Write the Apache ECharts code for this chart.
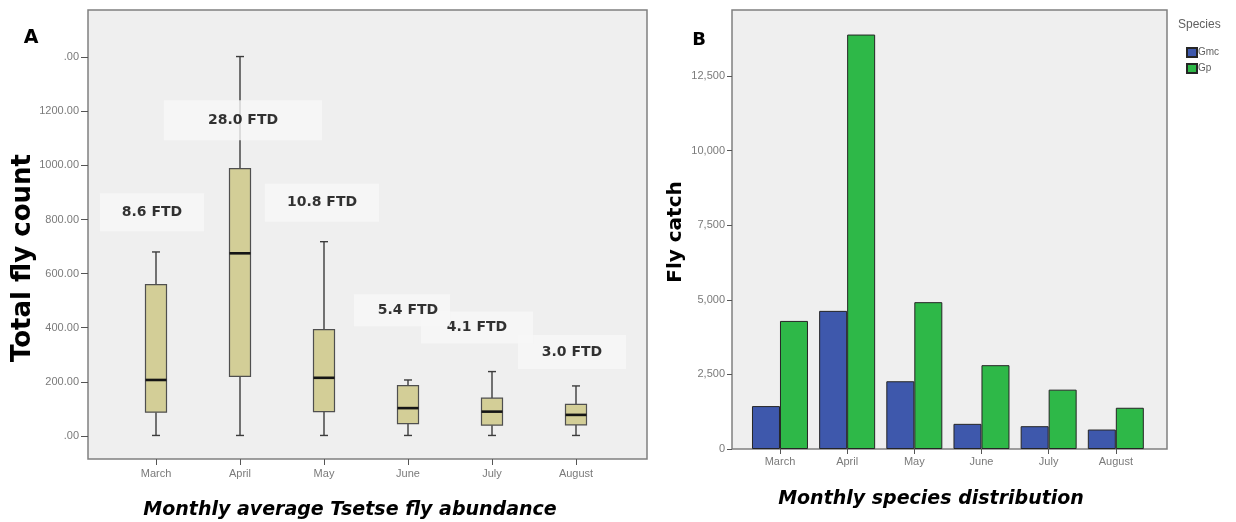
<!DOCTYPE html>
<html><head><meta charset="utf-8">
<script src="https://cdn.jsdelivr.net/npm/echarts@6/dist/echarts.min.js"></script>
<style>html,body{margin:0;padding:0;background:#fff}#c{width:1236px;height:522px}</style>
</head><body><div id="c"></div>
<script>
// ---------- data ----------
const months = ['March', 'April', 'May', 'June', 'July', 'August'];
// Panel A: box plot five-number summaries (Total fly count)
const boxMin    = [2, 2, 2, 2, 2, 2];
const boxQ1     = [88, 220, 90, 46, 40, 41];
const boxMedian = [207, 675, 215, 103, 90, 78];
const boxQ3     = [559, 988, 393, 186, 140, 117];
const boxMax    = [680, 1402, 718, 207, 238, 185];
const yTicksA      = [0, 200, 400, 600, 800, 1000, 1200, 1400];
const yTickLabelsA = ['.00', '200.00', '400.00', '600.00', '800.00', '1000.00', '1200.00', '.00'];
const ftdLabels    = ['8.6 FTD', '28.0 FTD', '10.8 FTD', '5.4 FTD', '4.1 FTD', '3.0 FTD'];
const ftdAnchor    = [827, 1167, 862, 465, 401, 310];   // fly-count level of each FTD note
// Panel B: fly catch per species
const seriesNames = ['Gmc', 'Gp'];
const gmcCatch = [1438, 4629, 2270, 843, 764, 652];
const gpCatch  = [4292, 13889, 4921, 2809, 1989, 1382];
const yTicksB      = [0, 2500, 5000, 7500, 10000, 12500];
const yTickLabelsB = ['0', '2,500', '5,000', '7,500', '10,000', '12,500'];

// ---------- styles ----------
const tickText = { color: '#7a7a7a', fontSize: 11, fontFamily: 'Liberation Sans' };
const tickLine = { color: '#555', width: 1 };
const frame = { show: true, backgroundColor: '#efefef', borderColor: '#808080', borderWidth: 1.5 };
const ftdNudge = [-4, 3, -2, -6, -15, -4];
const ftdPad = [[12, 22], [13, 44], [12, 22], [9, 12, 9, 24], [9, 26], [10, 24]];

const chart = echarts.init(document.getElementById('c'), null, { renderer: 'canvas' });

const option = {
  animation: false,
  backgroundColor: '#ffffff',
  grid: [
    Object.assign({ left: 88, top: 10, width: 559, height: 449, outerBoundsMode: 'none' }, frame),
    { left: 114, top: 10, width: 504, height: 449, outerBoundsMode: 'none' },
    Object.assign({ left: 732, top: 10, width: 435, height: 439, outerBoundsMode: 'none' }, frame),
    { left: 746.4, top: 10, width: 403, height: 439, outerBoundsMode: 'none' }
  ],
  xAxis: [
    { gridIndex: 0, type: 'value', min: 0, max: 1, show: false },
    { gridIndex: 1, type: 'category', data: months,
      axisLine: { show: false, onZero: false },
      axisTick: { show: true, alignWithLabel: true, length: 6, lineStyle: tickLine },
      axisLabel: Object.assign({ margin: 9 }, tickText) },
    { gridIndex: 2, type: 'value', min: 0, max: 1, show: false },
    { gridIndex: 3, type: 'category', data: months,
      axisLine: { show: false, onZero: false },
      axisTick: { show: true, alignWithLabel: true, length: 5, lineStyle: tickLine },
      axisLabel: Object.assign({ margin: 7 }, tickText) }
  ],
  yAxis: [
    { gridIndex: 0, type: 'value', min: -85, max: 1574,
      axisLine: { show: false },
      splitLine: { show: false },
      axisTick: { show: true, length: 7, customValues: yTicksA, lineStyle: tickLine },
      axisLabel: Object.assign({ margin: 9, customValues: yTicksA,
        formatter: v => yTickLabelsA[yTicksA.indexOf(v)] }, tickText) },
    { gridIndex: 1, type: 'value', min: -85, max: 1574, show: false },
    { gridIndex: 2, type: 'value', min: 0, max: 14712,
      axisLine: { show: false },
      splitLine: { show: false },
      axisTick: { show: true, length: 5, customValues: yTicksB, lineStyle: tickLine },
      axisLabel: Object.assign({ margin: 7, customValues: yTicksB,
        formatter: v => yTickLabelsB[yTicksB.indexOf(v)] }, tickText) },
    { gridIndex: 3, type: 'value', min: 0, max: 14712, show: false }
  ],
  legend: {
    data: seriesNames, orient: 'vertical', left: 1181, top: 42,
    itemWidth: 10, itemHeight: 9, itemGap: 5, icon: 'rect',
    textStyle: { fontSize: 10, color: '#606060', fontFamily: 'Liberation Sans', padding: [0, 0, 0, -4] },
    selectedMode: false
  },
  series: [
    {
      type: 'custom', xAxisIndex: 1, yAxisIndex: 1, silent: true, z: 2,
      encode: { x: 0, y: [1, 2, 3, 4, 5] },
      data: months.map((m, i) => [i, boxMin[i], boxQ1[i], boxMedian[i], boxQ3[i], boxMax[i]]),
      renderItem: function (params, api) {
        const i = api.value(0);
        const lo = api.coord([i, api.value(1)]);
        const q1 = api.coord([i, api.value(2)]);
        const md = api.coord([i, api.value(3)]);
        const q3 = api.coord([i, api.value(4)]);
        const hi = api.coord([i, api.value(5)]);
        const band = api.size([1, 0])[0];
        const bw = band * 0.25;
        const cw = 4;
        const cx = lo[0];
        const wStyle = { stroke: '#3c3c3c', lineWidth: 1.4 };
        return {
          type: 'group',
          children: [
            { type: 'line', shape: { x1: cx, y1: hi[1], x2: cx, y2: q3[1] }, style: wStyle },
            { type: 'line', shape: { x1: cx, y1: q1[1], x2: cx, y2: lo[1] }, style: wStyle },
            { type: 'line', shape: { x1: cx - cw, y1: hi[1], x2: cx + cw, y2: hi[1] }, style: wStyle },
            { type: 'line', shape: { x1: cx - cw, y1: lo[1], x2: cx + cw, y2: lo[1] }, style: wStyle },
            { type: 'rect', shape: { x: cx - bw / 2, y: q3[1], width: bw, height: q1[1] - q3[1] },
              style: { fill: '#d3ce97', stroke: '#4f4f4f', lineWidth: 1.2 } },
            { type: 'line', shape: { x1: cx - bw / 2, y1: md[1], x2: cx + bw / 2, y2: md[1] },
              style: { stroke: '#151515', lineWidth: 2.6 } }
          ]
        };
      }
    },
    {
      type: 'scatter', xAxisIndex: 1, yAxisIndex: 1, silent: true, z: 5,
      symbolSize: 1, itemStyle: { color: 'rgba(0,0,0,0)' },
      // later months first, so earlier notes are painted on top where boxes overlap
      data: months.map((m, i) => ({
        value: [i, ftdAnchor[i]],
        label: { offset: [ftdNudge[i], 0], padding: ftdPad[i] }
      })).reverse(),
      label: {
        show: true, position: 'inside',
        formatter: p => ftdLabels[p.value[0]],
        fontFamily: 'DejaVu Sans', fontWeight: 'bold', fontSize: 14, color: '#000',
        backgroundColor: '#f8f8f8'
      }
    },
    {
      type: 'bar', name: seriesNames[0], xAxisIndex: 3, yAxisIndex: 3, data: gmcCatch,
      barWidth: 28, barGap: '0%', silent: true,
      itemStyle: { color: '#3e58ac', borderColor: '#252525', borderWidth: 1 }
    },
    {
      type: 'bar', name: seriesNames[1], xAxisIndex: 3, yAxisIndex: 3, data: gpCatch,
      barWidth: 28, barGap: '0%', silent: true,
      itemStyle: { color: '#2eb848', borderColor: '#252525', borderWidth: 1 }
    }
  ],
  graphic: [
    { type: 'text', x: 31, y: 38, silent: true,
      style: { text: 'A', font: 'bold 19px "DejaVu Sans"', fill: '#000', textAlign: 'center', textVerticalAlign: 'middle' } },
    { type: 'text', x: 699, y: 40, silent: true,
      style: { text: 'B', font: 'bold 18px "DejaVu Sans"', fill: '#000', textAlign: 'center', textVerticalAlign: 'middle' } },
    { type: 'text', x: 23, y: 258, rotation: Math.PI / 2, silent: true,
      style: { text: 'Total fly count', font: 'bold 26px "DejaVu Sans"', fill: '#000', textAlign: 'center', textVerticalAlign: 'middle' } },
    { type: 'text', x: 676, y: 232, rotation: Math.PI / 2, silent: true,
      style: { text: 'Fly catch', font: 'bold 20px "DejaVu Sans"', fill: '#000', textAlign: 'center', textVerticalAlign: 'middle' } },
    { type: 'text', x: 350, y: 510, silent: true,
      style: { text: 'Monthly average Tsetse fly abundance', font: 'italic bold 19px "DejaVu Sans"', fill: '#000', textAlign: 'center', textVerticalAlign: 'middle' } },
    { type: 'text', x: 931, y: 499, silent: true,
      style: { text: 'Monthly species distribution', font: 'italic bold 19px "DejaVu Sans"', fill: '#000', textAlign: 'center', textVerticalAlign: 'middle' } },
    { type: 'text', x: 1178, y: 25, silent: true,
      style: { text: 'Species', font: '12px "Liberation Sans"', fill: '#606060', textAlign: 'left', textVerticalAlign: 'middle' } }
  ]
};
chart.setOption(option);
</script>
</body></html>
